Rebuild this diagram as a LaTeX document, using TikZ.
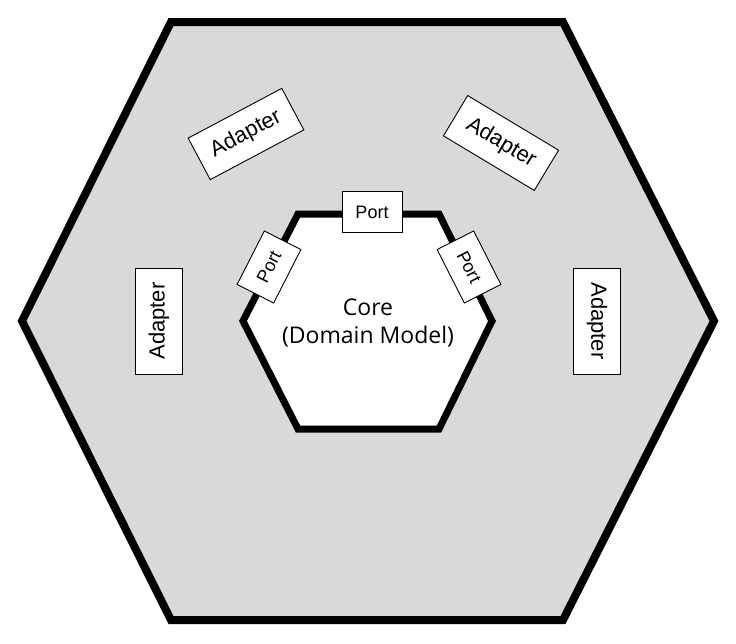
\documentclass[tikz,border=0pt]{standalone}
\usepackage{fontspec}
\setmainfont{Liberation Sans}
\newfontfamily\corefont{Open Sans}
\begin{document}
\begin{tikzpicture}[x=1pt,y=-1pt,
  hexouter/.style={draw=black,line width=8pt,fill=black!15,line join=miter},
  hexinner/.style={draw=black,line width=7pt,fill=white,line join=miter},
  adapterbox/.style={draw=black,line width=0.9pt,fill=white,minimum width=106pt,minimum height=47pt,inner sep=0pt,font=\fontsize{22}{24}\selectfont},
  portbox/.style={draw=black,line width=0.9pt,fill=white,minimum width=60pt,minimum height=41pt,inner sep=0pt,font=\fontsize{18}{20}\selectfont},
  coretext/.style={font=\corefont\fontsize{23}{28}\selectfont,align=center,inner sep=0pt}]
\useasboundingbox (0,0) rectangle (736,643);
\coordinate (o1) at (171,22);
\coordinate (o2) at (563,22);
\coordinate (o3) at (714,321);
\coordinate (o4) at (563,620);
\coordinate (o5) at (171,620);
\coordinate (o6) at (22,321);
\draw[hexouter] (o1) -- (o2) -- (o3) -- (o4) -- (o5) -- (o6) -- cycle;
\coordinate (i1) at (298,214);
\coordinate (i2) at (439,214);
\coordinate (i3) at (492,321);
\coordinate (i4) at (439,429);
\coordinate (i5) at (298,429);
\coordinate (i6) at (243,321);
\draw[hexinner] (i1) -- (i2) -- (i3) -- (i4) -- (i5) -- (i6) -- cycle;
\node[coretext] (core) at (368,323) {Core\\(Domain Model)};
\node[portbox] (porttop) at (372,212) {Port};
\node[portbox,rotate=63] (portleft) at (269,267) {Port};
\node[portbox,rotate=-63] (portright) at (469,267) {Port};
\node[adapterbox,rotate=28] (adtl) at (246,134) {Adapter};
\node[adapterbox,rotate=-31] (adtr) at (501,143) {Adapter};
\node[adapterbox,rotate=90] (adl) at (159,321) {Adapter};
\node[adapterbox,rotate=-90] (adr) at (597,321) {Adapter};
\end{tikzpicture}
\end{document}
